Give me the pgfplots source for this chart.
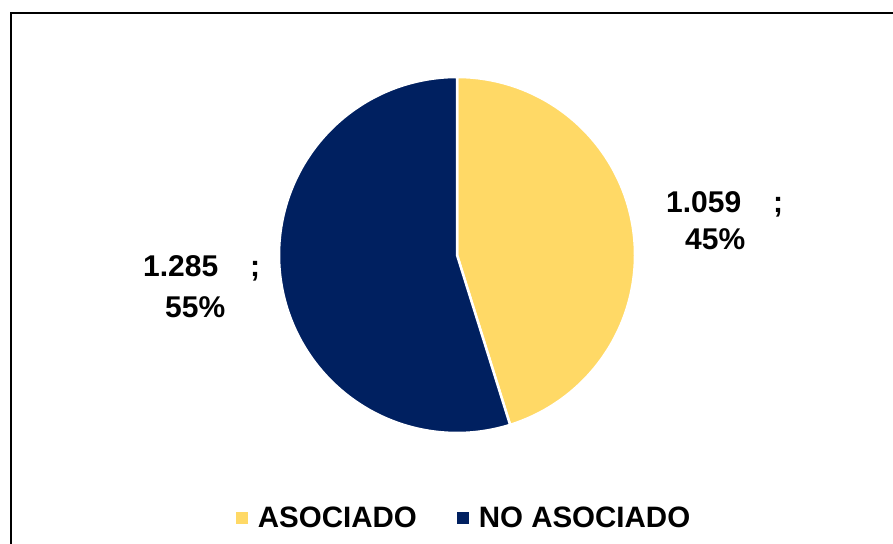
\documentclass[border=0pt]{standalone}
\usepackage{fontspec}
\setmainfont{Liberation Sans}
\usepackage{pgfplots}
\pgfplotsset{compat=1.18}
\definecolor{asoc}{RGB}{255,217,102}
\definecolor{noasoc}{RGB}{0,32,96}
\begin{document}
\begin{tikzpicture}[x=1bp,y=1bp]
\clip (0,0) rectangle (893,544);
\draw[line width=2bp] (11,-20) rectangle (920,531);
\pgfmathsetmacro\va{1059}
\pgfmathsetmacro\vb{1285}
\pgfmathsetmacro\fracA{\va/(\va+\vb)}
\pgfmathsetmacro\angA{360*\fracA}
\pgfmathsetmacro\split{90-\angA}
\begin{axis}[
  at={(457bp,289bp)}, anchor=center,
  scale only axis, width=356bp, height=356bp,
  xmin=-1, xmax=1, ymin=-1, ymax=1,
  hide axis, clip=false,
  legend columns=2,
  legend image code/.code={\fill[#1,draw=none] (0bp,-6bp) rectangle (12bp,6bp);},
  legend style={draw=none, fill=none, at={(0.517,-0.24)}, anchor=center,
    font=\bfseries\fontsize{29.5bp}{34bp}\selectfont,
    column sep=10bp,
    /tikz/every even column/.append style={column sep=40bp},
    nodes={inner sep=0pt}},
]
\addplot[fill=asoc, draw=white, line width=2.5bp, domain=\split:90, samples=120]
  ({cos(x)},{sin(x)}) -- (0,0) -- cycle;
\addlegendentry{ASOCIADO}
\addplot[fill=noasoc, draw=white, line width=2.5bp, domain=-270:\split, samples=150]
  ({cos(x)},{sin(x)}) -- (0,0) -- cycle;
\addlegendentry{NO ASOCIADO}
\end{axis}
\begin{scope}[every node/.style={inner sep=0pt, anchor=base west, font=\bfseries\fontsize{30bp}{36bp}\selectfont}]
\node at (666,331) {1.059};
\node at (773,331) {;};
\node at (685,294) {45\%};
\node at (143,267) {1.285};
\node at (250,267) {;};
\node at (165,226) {55\%};
\end{scope}
\end{tikzpicture}
\end{document}
